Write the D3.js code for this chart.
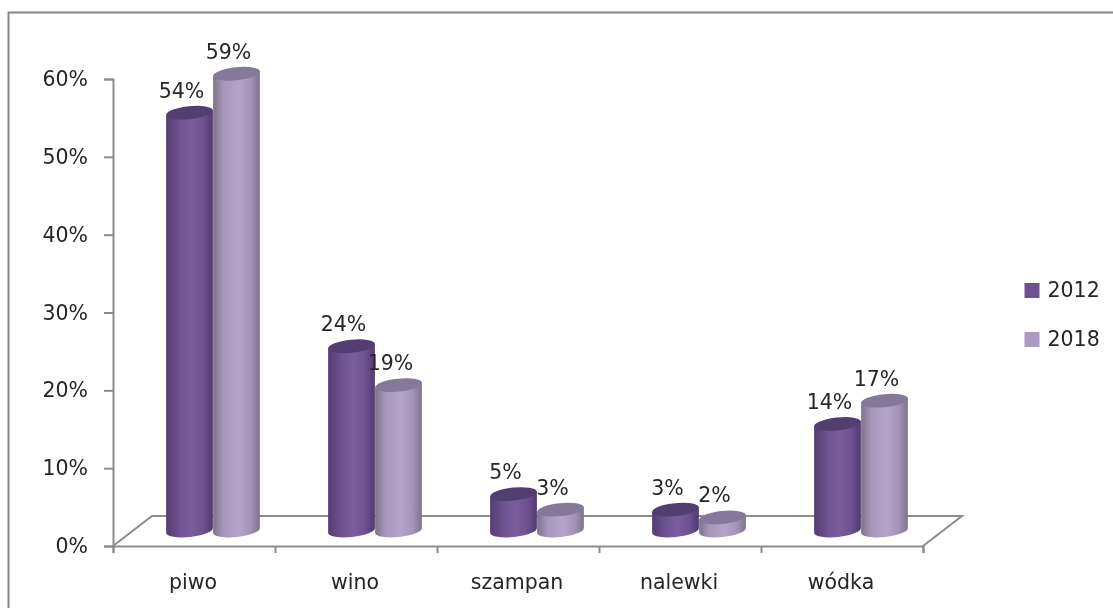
<!DOCTYPE html>
<html><head><meta charset="utf-8">
<script src="https://cdn.jsdelivr.net/npm/d3@7/dist/d3.min.js"></script>
<style>html,body{margin:0;background:#fff;overflow:hidden}svg{display:block;filter:blur(0.4px)}
text{font-family:"DejaVu Sans",sans-serif;fill:#262626}</style></head><body>
<svg id="c" width="1113" height="608"></svg>
<script>
const categories = ["piwo","wino","szampan","nalewki","wódka"];
const values2012 = [54,24,5,3,14];
const values2018 = [59,19,3,2,17];
const seriesNames = ["2012","2018"];
const yTicks = [0,10,20,30,40,50,60];

const svg = d3.select("#c");
const W=1113,H=608, x0=113,x1=923,y0=546,y1=79, depthX=39, depthY=30;
const fs=20.5;

svg.append("path").attr("d",`M${W},12.5H8.5V${H}`).attr("fill","none").attr("stroke","#868686").attr("stroke-width",2);

const defs=svg.append("defs");
const grads=[
 [["0","#533d72"],["0.3","#6f5392"],["0.55","#7b5d9c"],["0.8","#6c5090"],["1","#503b6d"]],
 [["0","#7c7488"],["0.22","#a797bc"],["0.55","#b4a3c9"],["0.8","#a494b8"],["1","#7d7489"]]
];
grads.forEach((g,i)=>{
  const lg=defs.append("linearGradient").attr("id","g"+i);
  g.forEach(s=>lg.append("stop").attr("offset",s[0]).attr("stop-color",s[1]));
});
const topFill=["#533e72","#84799a"];

const y=d3.scaleLinear().domain([0,60]).range([y0,y1]);
const xBand=d3.scaleBand().domain(categories).range([x0,x1]);
const xEdge=d3.scaleLinear().domain([0,categories.length]).range([x0,x1]);
const floorColor="#8c8c8c";

svg.append("path").attr("fill","none").attr("stroke",floorColor).attr("stroke-width",2)
  .attr("d",`M${x0},${y0}L${x0+depthX},${y0-depthY}H${x1+depthX}L${x1},${y0}`);

const yAxis=d3.axisLeft(y).tickValues(yTicks).tickSize(9).tickFormat(d=>d+"%");
const gy=svg.append("g").attr("transform",`translate(${x0},0)`).call(yAxis);
const xTicks=d3.axisBottom(xEdge).tickValues(d3.range(categories.length+1)).tickSize(7).tickFormat("");
const gx=svg.append("g").attr("transform",`translate(0,${y0})`).call(xTicks);
const xLab=d3.axisBottom(xBand).tickSize(0).tickPadding(28);
const gl=svg.append("g").attr("transform",`translate(0,${y0})`).call(xLab);
gl.select(".domain").remove();
[gy,gx].forEach(g=>{g.selectAll(".domain,line").attr("stroke",floorColor).attr("stroke-width",2);});
[gy,gl].forEach(g=>g.selectAll("text").attr("font-size",fs).style("font-family",'"DejaVu Sans",sans-serif').attr("fill","#262626"));
gy.selectAll("text").attr("dx",-13);
gl.selectAll("text").attr("dx",-1);

const bw=47, ry=6.5, tilt=-6, topOffset=13, baseCy=530.5, centerShift=19;
const rad=tilt*Math.PI/180;
[values2012,values2018].forEach((vals,s)=>{
  const g=svg.append("g");
  vals.forEach((v,i)=>{
    const cx=xBand(categories[i])+xBand.bandwidth()/2+centerShift+(s===0?-bw/2:bw/2);
    const t=y(v)-topOffset, rx=bw/2;
    const ex=rx*Math.cos(rad), ey=rx*Math.sin(rad);
    g.append("path").attr("fill",`url(#g${s})`)
      .attr("d",`M${cx-ex},${t-ey}L${cx-ex},${baseCy-ey}A${rx},${ry} ${tilt} 0 0 ${cx+ex},${baseCy+ey}L${cx+ex},${t+ey}Z`);
    g.append("ellipse").attr("cx",cx).attr("cy",t).attr("rx",rx).attr("ry",ry).attr("fill",topFill[s])
      .attr("transform",`rotate(${tilt} ${cx} ${t})`);
    svg.append("text").attr("class","lab").attr("x",cx-8).attr("y",t-15).attr("text-anchor","middle")
      .attr("font-size",fs).text(v+"%");
  });
});
svg.selectAll("text.lab").raise();

const legendY=d3.scalePoint().domain(seriesNames).range([290,339]);
const legendFill=["#6c5390","#ac9bc3"];
seriesNames.forEach((n,i)=>{
  svg.append("rect").attr("x",1024.5).attr("y",legendY(n)-7).attr("width",15).attr("height",15).attr("fill",legendFill[i]);
  svg.append("text").attr("x",1047.5).attr("y",legendY(n)+7).attr("font-size",fs).text(n);
});
</script></body></html>
